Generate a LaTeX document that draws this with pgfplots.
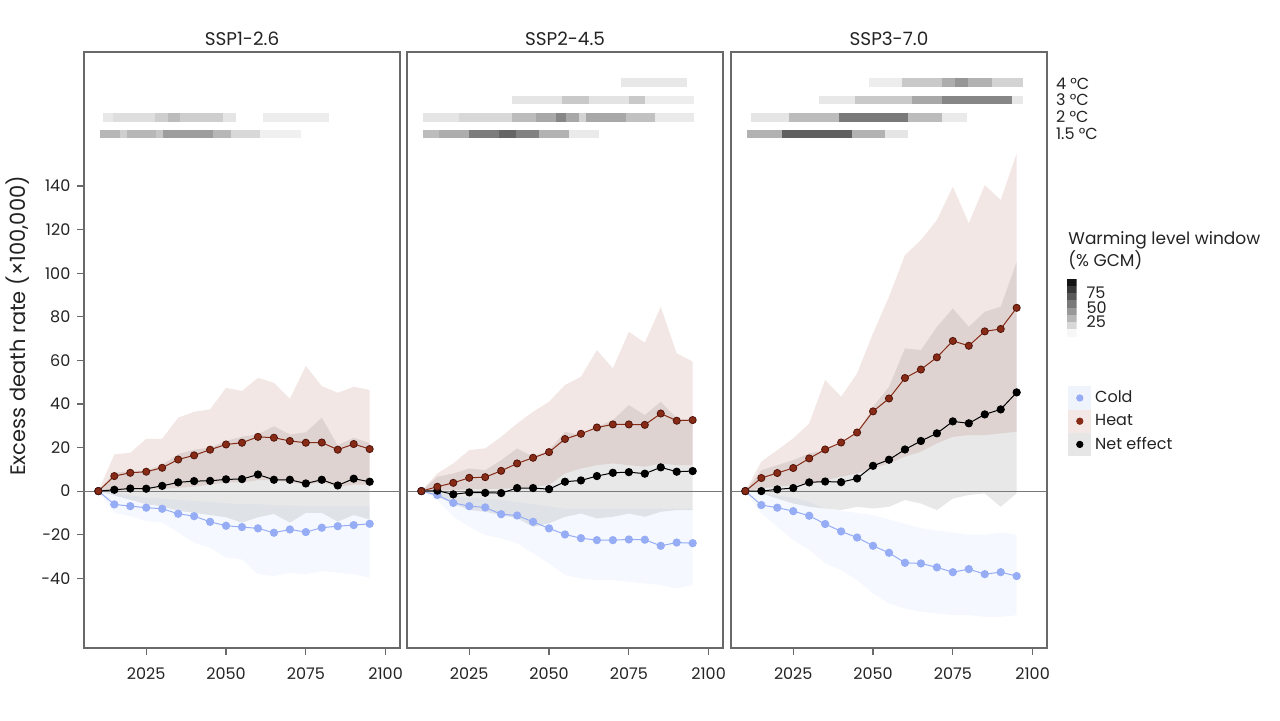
\documentclass[border=0pt]{standalone}
\usepackage{fontspec}
\setmainfont{Poppins}
\usepackage{pgfplots}
\pgfplotsset{compat=1.18}
\usepgfplotslibrary{fillbetween}
\usepackage{pgfplotstable}

\definecolor{heatc}{RGB}{135,42,22}
\definecolor{heatdark}{RGB}{80,20,10}
\definecolor{heatband}{RGB}{168,95,75}
\definecolor{coldc}{RGB}{150,172,245}
\definecolor{coldband}{RGB}{105,155,235}
\definecolor{framec}{RGB}{105,105,105}
\definecolor{zeroc}{RGB}{120,120,120}
\definecolor{textc}{RGB}{35,35,35}
\definecolor{coldsq}{RGB}{238,243,252}
\definecolor{heatsq}{RGB}{243,232,229}
\definecolor{netsq}{RGB}{230,230,230}

\newcommand{\fs}{\fontsize{8}{9.6}\selectfont}

\pgfplotsset{
  panel/.style={
    scale only axis, width=158pt, height=298pt,
    xmin=2005.5, xmax=2104.5, ymin=-72, ymax=201.5,
    xtick={2025,2050,2075,2100},
    xtick pos=bottom, ytick pos=left,
    axis line style={framec, line width=0.6pt},
    tick style={framec, line width=0.6pt},
    tick align=outside, major tick length=3.3pt,
    ticklabel style={font=\fs, text=textc},
    xticklabel style={yshift=-3pt},
    /pgf/number format/assume math mode=true,
    /pgf/number format/1000 sep={},
    title style={font=\fontsize{9.2}{11}\selectfont, text=textc, at={(0.5,1)}, anchor=base, yshift=-3pt},
    colormap={wb}{gray(0cm)=(1); gray(1cm)=(0)},
    point meta min=0, point meta max=100,
  },
  strip/.style={mesh, line width=4.3pt, point meta=explicit, forget plot, mark=none},
}

\newcommand{\drawdata}[1]{%
  \addplot[name path=clo, draw=none, forget plot] table[x=year,y=clo]{#1};
  \addplot[name path=chi, draw=none, forget plot] table[x=year,y=chi]{#1};
  \addplot[fill=coldband, fill opacity=0.065, draw=none, forget plot] fill between[of=clo and chi];
  \addplot[name path=nlo, draw=none, forget plot] table[x=year,y=nlo]{#1};
  \addplot[name path=nhi, draw=none, forget plot] table[x=year,y=nhi]{#1};
  \addplot[fill=black, fill opacity=0.09, draw=none, forget plot] fill between[of=nlo and nhi];
  \addplot[name path=hlo, draw=none, forget plot] table[x=year,y=hlo]{#1};
  \addplot[name path=hhi, draw=none, forget plot] table[x=year,y=hhi]{#1};
  \addplot[fill=heatband, fill opacity=0.15, draw=none, forget plot] fill between[of=hlo and hhi];
  \addplot[zeroc, line width=0.5pt, forget plot] coordinates {(2005.5,0) (2104.5,0)};
  \addplot[coldc, line width=0.5pt, mark=*, mark size=1.8pt, mark options={fill=coldc, draw=coldc}, forget plot] table[x=year,y=cold]{#1};
  \addplot[black, line width=0.5pt, mark=*, mark size=1.8pt, mark options={fill=black, draw=black}, forget plot] table[x=year,y=net]{#1};
  \addplot[heatc, line width=0.5pt, mark=*, mark size=1.8pt, mark options={fill=heatc, draw=heatdark, line width=0.4pt}, forget plot] table[x=year,y=heat]{#1};
}

\pgfplotstableread{
year cold clo chi heat hlo hhi net nlo nhi
2010 0 0 0 0 0 0 0 0 0
2015 -6.1 -10 -1 6.9 0 16.8 0.6 -2 8.4
2020 -6.9 -11.5 -2 8.4 0.3 17.6 1.2 -4 9.2
2025 -7.6 -13.8 -3 8.9 0.5 24 1.1 -6 9.5
2030 -8.1 -14.5 -3.5 10.7 1 24 2.4 -7 12
2035 -10.4 -19 -4 14.5 1.5 33.7 4.0 -9 17
2040 -11.5 -23.7 -4.5 16.4 2 36.4 4.6 -10 19
2045 -14.1 -26 -5 19.0 3 37.5 4.7 -11 20
2050 -15.9 -30.6 -5.5 21.4 4 47.4 5.4 -12 23
2055 -16.5 -31.4 -6 22.2 4 45.9 5.5 -14.5 25
2060 -17.1 -38.2 -6 24.9 5 52 7.6 -12 26
2065 -19.1 -39 -6.5 24.5 5 49.7 5.2 -10.5 29.8
2070 -17.6 -37.5 -6.5 23.0 4 42.4 5.2 -14.5 26
2075 -18.8 -38.2 -7 22.2 3 57.4 3.5 -10 27
2080 -16.8 -36.7 -7 22.3 4 48.2 5.2 -10 33.7
2085 -16.1 -37.5 -7 19.0 2 45.1 2.6 -14 21
2090 -15.6 -38.2 -7 21.6 3 47.9 5.7 -11 24.5
2095 -15.0 -39.8 -7 19.3 3 46.4 4.3 -13 22
}\dataA

\pgfplotstableread{
year cold clo chi heat hlo hhi net nlo nhi
2010 0 0 0 0 0 0 0 0 0
2015 -1.8 -4.1 -0.5 2.0 0.3 8.1 0.2 -2.6 6.6
2020 -5.4 -11.8 -2 3.8 0.5 12.7 -1.5 -5.7 8.1
2025 -6.9 -16.4 -3 6.1 0.8 18.8 -0.6 -8.7 10.4
2030 -7.5 -20.2 -3.5 6.4 1 19.6 -0.8 -9.5 9.6
2035 -10.6 -21.7 -4 9.3 1 24.9 -0.9 -11 14.2
2040 -11.2 -24 -5 12.7 1.5 31 1.4 -12.5 19.6
2045 -14.1 -28.6 -6 15.3 2 36.4 1.4 -16.4 15.8
2050 -17.1 -33.2 -7 17.9 2.8 41 0.9 -14.8 18.8
2055 -19.9 -38.6 -8 23.9 8.1 48.7 4.3 -11.8 27.2
2060 -21.6 -40.1 -8 26.3 10.4 52.5 4.9 -10.3 25.7
2065 -22.5 -40.9 -8 29.2 11.9 64.7 6.9 -12.5 29.5
2070 -22.5 -40.9 -8 30.6 12.7 56.3 8.4 -11.8 32.6
2075 -22.2 -41.6 -8 30.6 11.9 73.1 8.7 -10.3 39.5
2080 -22.3 -42.4 -8 30.4 11.2 68.1 8.0 -11.8 34.9
2085 -25.1 -43.1 -8 35.6 12.7 84.6 10.9 -9.5 41
2090 -23.6 -44.7 -8 32.3 11.9 63.2 8.9 -8.7 33.4
2095 -23.9 -43.1 -8 32.6 11.9 59.4 9.2 -8.7 32.6
}\dataB

\pgfplotstableread{
year cold clo chi heat hlo hhi net nlo nhi
2010 0 0 0 0 0 0 0 0 0
2015 -6.4 -10.3 -1 6.0 1.2 13.5 0 -1 9.6
2020 -7.6 -16.4 -2 8.3 2 18.8 0.8 -3.4 11.9
2025 -9.2 -22.5 -3 10.6 2.8 24.2 1.4 -5.7 14.2
2030 -11.3 -27 -5 15.0 3.5 31 4.0 -7.2 17.3
2035 -15.1 -33.2 -8 19.1 5 51 4.4 -8 18.8
2040 -18.5 -36.3 -9 22.3 6.6 43.3 4.1 -8.7 21.9
2045 -21.3 -40.9 -10 26.9 8.1 54 5.8 -7.2 26.5
2050 -25.1 -47 -11 36.6 10.4 72.4 11.6 -8 38.7
2055 -28.3 -51.6 -13 42.5 12.7 89.2 14.4 -7.2 47.9
2060 -32.9 -53.9 -15 51.9 15.8 108.3 19.1 -4.1 65.5
2065 -33.2 -55.4 -17 55.8 18.1 115.2 23.0 -5.7 64.7
2070 -35.0 -56.2 -18 61.4 21.9 124.4 26.5 -8.7 75.4
2075 -37.2 -56.9 -19 68.9 24.9 139.7 32.0 -3.4 83.8
2080 -35.8 -56.9 -20 66.7 25.7 122.9 31.1 -1.8 75.4
2085 -38.1 -57.7 -20 73.3 25.7 140.4 35.2 -1 82.3
2090 -37.2 -57.7 -19 74.4 26.5 133.6 37.5 -7.2 84.6
2095 -39.0 -57 -20 84.1 27.2 155 45.3 -1 105.3
}\dataC

\begin{document}
\begin{tikzpicture}
% ---------------- Panel 1
\begin{axis}[panel, at={(42pt,36pt)}, anchor=south west,
  ytick={-40,-20,...,140}, title={SSP1-2.6}]
\drawdata{\dataA}
% 2 C
\addplot[strip] coordinates {(2011.6,171.5)[9] (2014.7,171.5)[9] (2014.7,171.5)[13] (2027.7,171.5)[13] (2027.7,171.5)[19] (2031.9,171.5)[19] (2031.9,171.5)[26] (2035.5,171.5)[26] (2035.5,171.5)[19] (2049.1,171.5)[19] (2049.1,171.5)[10] (2053.2,171.5)[10]};
\addplot[strip] coordinates {(2061.6,171.5)[7] (2082.2,171.5)[7]};
% 1.5 C
\addplot[strip] coordinates {(2010.5,163.8)[28] (2016.8,163.8)[28] (2016.8,163.8)[19] (2019,163.8)[19] (2019,163.8)[28] (2028.2,163.8)[28] (2028.2,163.8)[22] (2030.3,163.8)[22] (2030.3,163.8)[38] (2046,163.8)[38] (2046,163.8)[28] (2051.7,163.8)[28] (2051.7,163.8)[15] (2060.5,163.8)[15] (2060.5,163.8)[6] (2073.5,163.8)[6]};
\end{axis}

% ---------------- Panel 2
\begin{axis}[panel, at={(203.5pt,36pt)}, anchor=south west,
  ytick=\empty, title={SSP2-4.5}]
\drawdata{\dataB}
% 4 C
\addplot[strip] coordinates {(2072.4,187.4)[9] (2093.2,187.4)[9]};
% 3 C
\addplot[strip] coordinates {(2038.5,179.4)[10] (2054,179.4)[10] (2054,179.4)[21] (2062.5,179.4)[21] (2062.5,179.4)[11] (2075,179.4)[11] (2075,179.4)[21] (2080,179.4)[21] (2080,179.4)[7] (2095.3,179.4)[7]};
% 2 C
\addplot[strip] coordinates {(2010.4,171.5)[10] (2021.9,171.5)[10] (2021.9,171.5)[15] (2038.5,171.5)[15] (2038.5,171.5)[26] (2045.8,171.5)[26] (2045.8,171.5)[34] (2052.1,171.5)[34] (2052.1,171.5)[47] (2055.2,171.5)[47] (2055.2,171.5)[34] (2059.4,171.5)[34] (2059.4,171.5)[17] (2061.5,171.5)[17] (2061.5,171.5)[34] (2074,171.5)[34] (2074,171.5)[24] (2083.3,171.5)[24] (2083.3,171.5)[8] (2095.3,171.5)[8]};
% 1.5 C
\addplot[strip] coordinates {(2010.4,163.8)[26] (2015.6,163.8)[26] (2015.6,163.8)[32] (2025,163.8)[32] (2025,163.8)[51] (2034.4,163.8)[51] (2034.4,163.8)[60] (2039.6,163.8)[60] (2039.6,163.8)[49] (2046.9,163.8)[49] (2046.9,163.8)[30] (2056.3,163.8)[30] (2056.3,163.8)[8] (2065.6,163.8)[8]};
\end{axis}

% ---------------- Panel 3
\begin{axis}[panel, at={(365.5pt,36pt)}, anchor=south west,
  ytick=\empty, title={SSP3-7.0},
  legend style={at={(1.0665,0.4396)}, anchor=north west, draw=none, fill=none,
    font=\fs, text=textc, row sep=0pt, inner sep=0pt},
  legend cell align=left]
\drawdata{\dataC}
% 4 C
\addplot[strip] coordinates {(2048.6,187.4)[7] (2059,187.4)[7] (2059,187.4)[21] (2071.6,187.4)[21] (2071.6,187.4)[32] (2075.7,187.4)[32] (2075.7,187.4)[41] (2079.8,187.4)[41] (2079.8,187.4)[30] (2087.2,187.4)[30] (2087.2,187.4)[17] (2097,187.4)[17]};
% 3 C
\addplot[strip] coordinates {(2033,179.4)[9] (2044.5,179.4)[9] (2044.5,179.4)[21] (2062.2,179.4)[21] (2062.2,179.4)[34] (2071.6,179.4)[34] (2071.6,179.4)[47] (2093.4,179.4)[47] (2093.4,179.4)[9] (2097,179.4)[9]};
% 2 C
\addplot[strip] coordinates {(2011.7,171.5)[10] (2023.6,171.5)[10] (2023.6,171.5)[26] (2039.3,171.5)[26] (2039.3,171.5)[52] (2061.1,171.5)[52] (2061.1,171.5)[26] (2071.6,171.5)[26] (2071.6,171.5)[8] (2079.4,171.5)[8]};
% 1.5 C
\addplot[strip] coordinates {(2010.6,163.8)[30] (2021.6,163.8)[30] (2021.6,163.8)[62] (2043.4,163.8)[62] (2043.4,163.8)[30] (2053.8,163.8)[30] (2053.8,163.8)[10] (2061.1,163.8)[10]};
\addlegendimage{legend image code/.code={\fill[coldsq] (0pt,-5.6pt) rectangle (11pt,5.6pt); \fill[coldc] (5.5pt,0pt) circle (1.6pt);}}
\addlegendentry{Cold}
\addlegendimage{legend image code/.code={\fill[heatsq] (0pt,-5.6pt) rectangle (11pt,5.6pt); \fill[heatc] (5.5pt,0pt) circle (1.6pt);}}
\addlegendentry{Heat}
\addlegendimage{legend image code/.code={\fill[netsq] (0pt,-5.6pt) rectangle (11pt,5.6pt); \fill[black] (5.5pt,0pt) circle (1.6pt);}}
\addlegendentry{Net effect}
\end{axis}

% ---------------- colour bar
\begin{axis}[at={(533.3pt,191.75pt)}, anchor=south west, scale only axis,
  width=5pt, height=29pt, xmin=0, xmax=1, ymin=0, ymax=100,
  axis line style={draw=none}, xtick=\empty, ytick={25,50,75},
  yticklabel pos=right, major tick length=0pt,
  /pgf/number format/assume math mode=true,
  ticklabel style={font=\fs, text=textc}, yticklabel style={xshift=1.5pt},
  colormap={wb}{gray(0cm)=(1); gray(1cm)=(0)}, point meta min=0, point meta max=100]
\addplot[mesh, line width=5pt, point meta=explicit, mark=none] coordinates {
(0.5,0)[3] (0.5,12.5)[3] (0.5,12.5)[15] (0.5,25)[15] (0.5,25)[28] (0.5,37.5)[28]
(0.5,37.5)[40] (0.5,50)[40] (0.5,50)[52] (0.5,62.5)[52] (0.5,62.5)[65] (0.5,75)[65]
(0.5,75)[78] (0.5,87.5)[78] (0.5,87.5)[92] (0.5,100)[92]};
\end{axis}

% ---------------- texts
\node[anchor=base west, font=\fs, text=textc] at (524.5pt,315.5pt) {4 °C};
\node[anchor=base west, font=\fs, text=textc] at (524.5pt,307.5pt) {3 °C};
\node[anchor=base west, font=\fs, text=textc] at (524.5pt,299pt) {2 °C};
\node[anchor=base west, font=\fs, text=textc] at (524.5pt,290.5pt) {1.5 °C};
\node[anchor=base west, font=\fontsize{8.5}{10}\selectfont, text=textc, inner sep=0pt] at (534pt,238pt) {Warming level window};
\node[anchor=base west, font=\fontsize{8.5}{10}\selectfont, text=textc, inner sep=0pt] at (534pt,227pt) {(\% GCM)};
\node[rotate=90, font=\fontsize{10.5}{12}\selectfont, text=textc] at (9pt,197pt) {Excess death rate (×100,000)};

\pgfresetboundingbox
\path (0pt,0pt) rectangle (640pt,360pt);
\end{tikzpicture}
\end{document}
